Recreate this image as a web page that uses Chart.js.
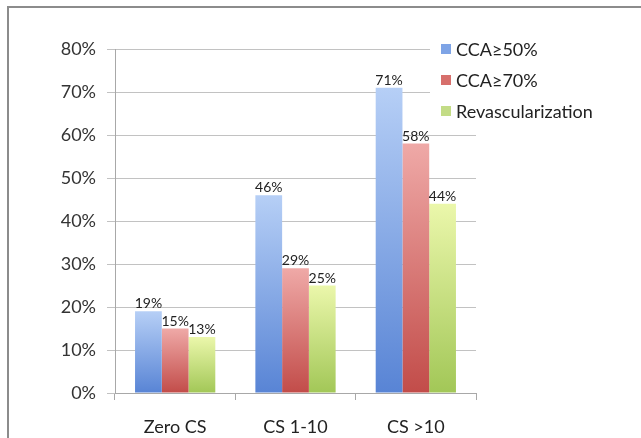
<!DOCTYPE html>
<html>
<head>
<meta charset="utf-8">
<script src="https://cdn.jsdelivr.net/npm/chart.js@4/dist/chart.umd.min.js"></script>
<style>
  html, body { margin: 0; padding: 0; background: #fff; overflow: hidden; }
  #frame {
    position: absolute; left: 7px; top: 6px; width: 700px; height: 500px;
    border: 2px solid #8c8c8c; box-sizing: border-box;
  }
  #wrap { position: absolute; left: 0; top: 0; width: 641px; height: 438px; }
</style>
</head>
<body>
<div id="frame"></div>
<div id="wrap"><canvas id="chart" width="641" height="438"></canvas></div>
<script>
// Percent of patients per calcium-score group
const categories = ['Zero CS', 'CS 1-10', 'CS >10'];
const seriesNames = ['CCA\u226550%', 'CCA\u226570%', 'Revascularization'];
const cca50 = [19, 46, 71];
const cca70 = [15, 29, 58];
const revasc = [13, 25, 44];
const yTicks = [0, 10, 20, 30, 40, 50, 60, 70, 80];

const FONT = 'Lato, "Open Sans", sans-serif';

// vertical gradient per bar: light at the top, saturated at the base
function barFill(top, bottom) {
  return (ctx) => {
    const chart = ctx.chart;
    const y = chart.scales && chart.scales.y;
    if (!chart.chartArea || !y || ctx.raw == null) return bottom;
    const y0 = y.getPixelForValue(ctx.raw);
    const y1 = y.getPixelForValue(0);
    const g = chart.ctx.createLinearGradient(0, y0, 0, y1);
    g.addColorStop(0, top);
    g.addColorStop(1, bottom);
    return g;
  };
}

const palette = [
  { top: '#b6cff6', bottom: '#5884d5', key: '#7ea4e6' },
  { top: '#efa9a7', bottom: '#c24c49', key: '#d76f6c' },
  { top: '#ebf7ab', bottom: '#a2c757', key: '#c3dc86' }
];

const seriesValues = [cca50, cca70, revasc];

// value labels drawn just above each bar
const valueLabels = {
  id: 'valueLabels',
  afterDatasetsDraw(chart) {
    const c = chart.ctx;
    c.save();
    c.font = '14px ' + FONT;
    c.fillStyle = '#222';
    c.textAlign = 'center';
    c.textBaseline = 'alphabetic';
    chart.data.datasets.forEach((ds, i) => {
      const meta = chart.getDatasetMeta(i);
      meta.data.forEach((bar, j) => {
        c.fillText(ds.data[j] + '%', bar.x, bar.y - 3);
      });
    });
    c.restore();
  }
};

// legend box at the upper right, over the grid
const sideLegend = {
  id: 'sideLegend',
  afterDraw(chart) {
    const c = chart.ctx;
    c.save();
    c.fillStyle = '#fff';
    c.fillRect(430, 32, 200, 94);
    c.font = '18px ' + FONT;
    c.textBaseline = 'middle';
    c.textAlign = 'left';
    chart.data.datasets.forEach((ds, i) => {
      const cy = 49 + i * 31;
      c.fillStyle = palette[i].key;
      c.fillRect(441, cy - 5, 10, 10);
      c.fillStyle = '#222';
      c.fillText(ds.label, 456, cy + 1);
    });
    c.restore();
  }
};

new Chart(document.getElementById('chart'), {
  type: 'bar',
  data: {
    labels: categories,
    datasets: seriesNames.map((name, i) => ({
      label: name,
      data: seriesValues[i],
      backgroundColor: barFill(palette[i].top, palette[i].bottom),
      borderWidth: 0,
      barPercentage: 1.0,
      categoryPercentage: 0.667
    }))
  },
  options: {
    responsive: false,
    animation: false,
    devicePixelRatio: 1,
    layout: { padding: { left: 0, right: 165, top: 49, bottom: 0 } },
    plugins: {
      legend: { display: false },
      tooltip: { enabled: false }
    },
    scales: {
      x: {
        grid: {
          drawOnChartArea: false,
          drawTicks: true,
          tickLength: 7,
          color: '#a8a8a8'
        },
        border: { display: true, color: '#a8a8a8', width: 1 },
        ticks: {
          color: '#222',
          font: { family: FONT, size: 18 },
          padding: 16
        },
        afterFit(scale) { scale.height = 45; }
      },
      y: {
        min: 0,
        max: 80,
        afterBuildTicks(scale) { scale.ticks = yTicks.map(v => ({ value: v })); },
        grid: {
          color: '#c2c2c2',
          drawTicks: true,
          tickLength: 8,
          lineWidth: 1
        },
        border: { display: true, color: '#a8a8a8', width: 1 },
        ticks: {
          color: '#333',
          font: { family: FONT, size: 18 },
          padding: 11,
          callback: v => v + '%'
        },
        afterFit(scale) { scale.width = 115; }
      }
    }
  },
  plugins: [valueLabels, sideLegend]
});
</script>
</body>
</html>
